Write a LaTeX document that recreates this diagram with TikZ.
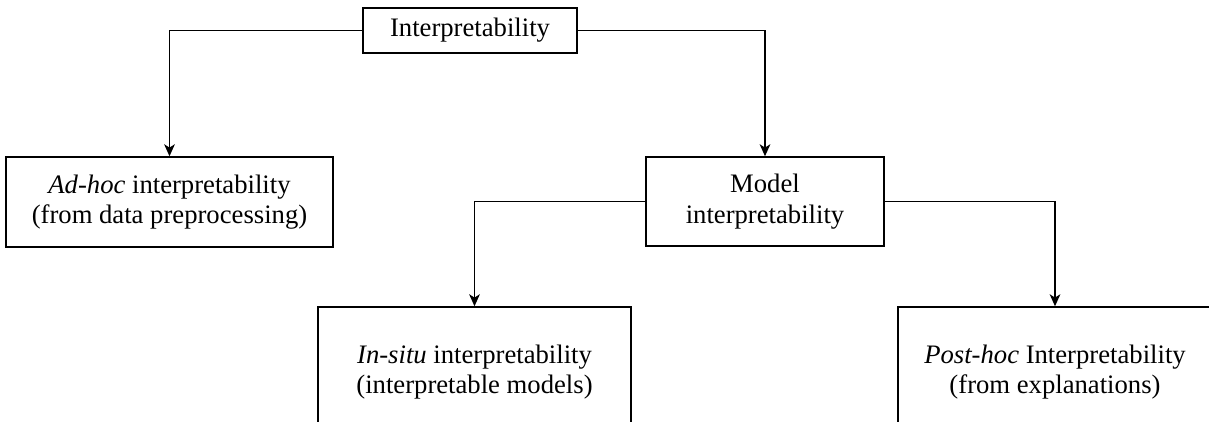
\documentclass[tikz,border=0pt]{standalone}
\usepackage{fontspec}
\setmainfont{Liberation Serif}
\usetikzlibrary{arrows.meta}
\begin{document}
\begin{tikzpicture}[x=0.75pt, y=-0.75pt,
  box/.style={draw, line width=1.1pt, align=center, inner sep=0pt,
              font=\fontsize{20}{23}\selectfont},
  link/.style={line width=1.1pt, -{Stealth[length=9pt, width=8pt, inset=2.5pt]}},
]
\clip (0,0) rectangle (1209,421);

% taxonomy boxes
\node[box, minimum width=160.5pt, minimum height=33.75pt] (root) at (470,30.5) {Interpretability};
\node[box, minimum width=245.25pt, minimum height=67.5pt] (adhoc) at (169.5,202)
  {\textit{Ad-hoc} interpretability\\(from data preprocessing)};
\node[box, minimum width=178.5pt, minimum height=66.75pt] (model) at (765,201.5)
  {Model\\interpretability};
\node[box, minimum width=234.75pt, minimum height=97.5pt] (insitu) at (474.5,372)
  {\textit{In-situ} interpretability\\(interpretable models)};
\node[box, minimum width=235.5pt, minimum height=97.5pt] (posthoc) at (1055,372)
  {\textit{Post-hoc} Interpretability\\(from explanations)};

% branches
\draw[link] (root.west) -| (adhoc.north);
\draw[link] (root.east) -| (model.north);
\draw[link] (model.west) -| (insitu.north);
\draw[link] (model.east) -| (posthoc.north);
\end{tikzpicture}
\end{document}
